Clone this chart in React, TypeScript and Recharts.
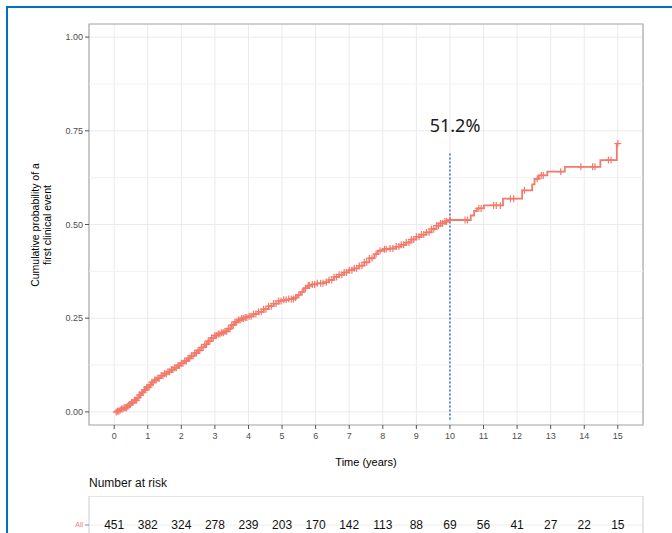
import React from "react";
import {
  ComposedChart,
  Line,
  Scatter,
  XAxis,
  YAxis,
  CartesianGrid,
  ReferenceLine,
  ReferenceArea,
} from "recharts";

// cumulative incidence curve (step after)
const stepTimes = [
  0, 0.08, 0.15, 0.22, 0.3, 0.38, 0.45, 0.52, 0.6, 0.68, 0.75, 0.82, 0.9, 0.97,
  1.05, 1.12, 1.2, 1.3, 1.4, 1.5, 1.6, 1.7, 1.8, 1.9, 2.0, 2.1, 2.2, 2.3, 2.4,
  2.5, 2.6, 2.7, 2.8, 2.9, 3.0, 3.1, 3.2, 3.3, 3.4, 3.5, 3.6, 3.7, 3.8, 3.9,
  4.0, 4.15, 4.3, 4.45, 4.6, 4.75, 4.9, 5.05, 5.2, 5.35, 5.45, 5.55, 5.65,
  5.75, 5.9, 6.05, 6.25, 6.4, 6.55, 6.7, 6.85, 7.0, 7.15, 7.3, 7.45, 7.6, 7.75,
  7.85, 8.0, 8.2, 8.4, 8.55, 8.7, 8.85, 9.0, 9.15, 9.3, 9.45, 9.6, 9.72, 9.85,
  9.95, 10.62, 10.72, 10.8, 11.01, 11.58, 12.15, 12.45, 12.52, 12.65, 12.9,
  13.42, 14.48, 14.97, 15.0,
];
const stepCum = [
  0, 0.002, 0.005, 0.008, 0.011, 0.015, 0.02, 0.025, 0.031, 0.038, 0.045,
  0.052, 0.059, 0.066, 0.072, 0.079, 0.085, 0.09, 0.097, 0.102, 0.107, 0.113,
  0.118, 0.124, 0.13, 0.136, 0.143, 0.15, 0.157, 0.164, 0.172, 0.18, 0.189,
  0.197, 0.204, 0.208, 0.211, 0.215, 0.222, 0.232, 0.24, 0.245, 0.249, 0.252,
  0.255, 0.261, 0.267, 0.274, 0.282, 0.289, 0.296, 0.299, 0.301, 0.305, 0.312,
  0.32, 0.33, 0.337, 0.34, 0.343, 0.346, 0.352, 0.36, 0.366, 0.372, 0.378,
  0.383, 0.39, 0.399, 0.41, 0.421, 0.43, 0.434, 0.436, 0.441, 0.446, 0.452,
  0.46, 0.467, 0.473, 0.479, 0.488, 0.497, 0.503, 0.508, 0.512, 0.524, 0.536,
  0.543, 0.551, 0.569, 0.591, 0.607, 0.622, 0.631, 0.641, 0.654, 0.672, 0.716,
  0.716,
];

// censoring marks
const censorTimes = [
  0.06, 0.1, 0.14, 0.18, 0.22, 0.26, 0.3, 0.33, 0.37, 0.41, 0.45, 0.48, 0.52,
  0.56, 0.6, 0.63, 0.67, 0.71, 0.75, 0.79, 0.83, 0.86, 0.9, 0.93, 0.97, 1.0,
  1.04, 1.08, 1.12, 1.16, 1.21, 1.25, 1.3, 1.34, 1.4, 1.45, 1.5, 1.55, 1.6,
  1.65, 1.7, 1.75, 1.8, 1.85, 1.9, 1.95, 2.0, 2.05, 2.1, 2.15, 2.2, 2.25, 2.3,
  2.35, 2.4, 2.45, 2.5, 2.55, 2.6, 2.65, 2.7, 2.75, 2.8, 2.85, 2.9, 2.95, 3.0,
  3.05, 3.1, 3.15, 3.2, 3.25, 3.3, 3.35, 3.4, 3.45, 3.5, 3.55, 3.6, 3.65, 3.7,
  3.75, 3.8, 3.85, 3.9, 3.95, 4.02, 4.08, 4.15, 4.22, 4.3, 4.38, 4.45, 4.52,
  4.6, 4.68, 4.75, 4.82, 4.9, 4.97, 5.05, 5.12, 5.2, 5.28, 5.34, 5.4, 5.5,
  5.6, 5.7, 5.78, 5.82, 5.9, 5.97, 6.05, 6.15, 6.22, 6.32, 6.4, 6.48, 6.55,
  6.62, 6.7, 6.78, 6.85, 6.92, 7.0, 7.08, 7.15, 7.22, 7.3, 7.38, 7.45, 7.52,
  7.6, 7.68, 7.8, 7.92, 8.05, 8.1, 8.22, 8.3, 8.4, 8.48, 8.55, 8.62, 8.7, 8.78,
  8.85, 8.92, 9.0, 9.08, 9.15, 9.22, 9.3, 9.38, 9.45, 9.52, 9.6, 9.66, 9.72,
  9.78, 9.85, 9.9, 10.0, 10.45, 10.52, 10.86, 10.93, 11.3, 11.38, 11.5, 11.8,
  11.9, 12.22, 12.6, 12.72, 12.78, 13.3, 13.9, 14.25, 14.32, 14.72, 14.8,
  15.0,
];

// number at risk
const riskTimes = [0, 1, 2, 3, 4, 5, 6, 7, 8, 9, 10, 11, 12, 13, 14, 15];
const riskCounts = [
  451, 382, 324, 278, 239, 203, 170, 142, 113, 88, 69, 56, 41, 27, 22, 15,
];

const xTicks = [0, 1, 2, 3, 4, 5, 6, 7, 8, 9, 10, 11, 12, 13, 14, 15];
const yTicks = [0, 0.25, 0.5, 0.75, 1];
const yMinor = [0.125, 0.375, 0.625, 0.875];
const riskGrid = [
  0, 0.5, 1, 1.5, 2, 2.5, 3, 3.5, 4, 4.5, 5, 5.5, 6, 6.5, 7, 7.5, 8, 8.5, 9,
  9.5, 10, 10.5, 11, 11.5, 12, 12.5, 13, 13.5, 14, 14.5, 15,
];

const RED = "#F37A6B";
const FONT = "'Liberation Sans', Arial, sans-serif";

const curveData = stepTimes.map((t, i) => ({ t, cum: stepCum[i] }));

const cumAt = (t: number) => {
  let v = 0;
  for (let i = 0; i < stepTimes.length; i++) {
    if (stepTimes[i] <= t) v = stepCum[i];
  }
  return v;
};
const censorData = censorTimes.map((t) => ({ t, cum: cumAt(t) }));
const riskData = riskTimes.map((t, i) => ({ t, y: 0.5, n: riskCounts[i] }));

const PlusMark = (props: any) => {
  const { cx, cy } = props;
  if (cx == null || cy == null) return null;
  return (
    <g stroke={RED} strokeWidth={1.2}>
      <line x1={cx - 3.5} x2={cx + 3.5} y1={cy} y2={cy} />
      <line x1={cx} x2={cx} y1={cy - 3.5} y2={cy + 3.5} />
    </g>
  );
};

const RiskText = (props: any) => {
  const { cx, cy, payload } = props;
  return (
    <text
      x={cx}
      y={cy}
      textAnchor="middle"
      dominantBaseline="central"
      fontSize={12}
      fill="#111"
    >
      {payload.n}
    </text>
  );
};

export default function App() {
  return (
    <div
      style={{
        position: "absolute",
        left: 0,
        top: 0,
        width: 672,
        height: 533,
        overflow: "hidden",
        background: "#fff",
        fontFamily: FONT,
      }}
    >
      {/* blue frame */}
      <div
        style={{
          position: "absolute",
          left: 6,
          top: 6,
          right: -10,
          bottom: -10,
          borderLeft: "2px solid #0070C0",
          borderTop: "2px solid #0070C0",
        }}
      />

      <div style={{ position: "absolute", left: 0, top: 0 }}>
        <ComposedChart
          width={672}
          height={533}
          margin={{ top: 24, right: 29, bottom: 78, left: 49 }}
        >
          <CartesianGrid stroke="#EBEBEB" strokeWidth={1} />
          {yMinor.map((y) => (
            <ReferenceLine key={y} y={y} stroke="#F2F2F2" strokeWidth={1} />
          ))}
          <XAxis
            dataKey="t"
            type="number"
            domain={[-0.75, 15.75]}
            ticks={xTicks}
            allowDataOverflow
            height={30}
            tickSize={4}
            tickMargin={4}
            axisLine={false}
            tickLine={{ stroke: "#555" }}
            tick={{ fill: "#4D4D4D", fontSize: 9 }}
          />
          <YAxis
            type="number"
            domain={[-0.035, 1.035]}
            ticks={yTicks}
            allowDataOverflow
            width={40}
            tickSize={4}
            tickMargin={2}
            axisLine={false}
            tickLine={{ stroke: "#555" }}
            tick={{ fill: "#4D4D4D", fontSize: 9 }}
            tickFormatter={(v: number) => v.toFixed(2)}
          />
          <ReferenceArea
            x1={-0.75}
            x2={15.75}
            y1={-0.035}
            y2={1.035}
            fill="none"
            stroke="#ABABAB"
            strokeWidth={1.2}
          />
          <ReferenceLine
            segment={[
              { x: 10, y: -0.02 },
              { x: 10, y: 0.69 },
            ]}
            stroke="#3F6FD0"
            strokeWidth={1.5}
            strokeDasharray="2 2"
          />
          <Line
            data={curveData}
            dataKey="cum"
            type="stepAfter"
            stroke={RED}
            strokeWidth={1.8}
            dot={false}
            isAnimationActive={false}
          />
          <Scatter
            data={censorData}
            dataKey="cum"
            shape={<PlusMark />}
            isAnimationActive={false}
          />
        </ComposedChart>
      </div>

      {/* y axis title */}
      <div
        style={{
          position: "absolute",
          left: 41,
          top: 224.5,
          transform: "translate(-50%, -50%) rotate(-90deg)",
          fontSize: 10.5,
          lineHeight: "12px",
          textAlign: "center",
          whiteSpace: "nowrap",
          color: "#000",
        }}
      >
        Cumulative probability of a
        <br />
        first clinical event
      </div>

      {/* x axis title */}
      <div
        style={{
          position: "absolute",
          left: 366,
          top: 456,
          transform: "translateX(-50%)",
          fontSize: 11,
          whiteSpace: "nowrap",
          color: "#000",
        }}
      >
        Time (years)
      </div>

      {/* annotation */}
      <div
        style={{
          position: "absolute",
          left: 455,
          top: 125,
          transform: "translate(-50%, -50%)",
          fontSize: 18,
          fontFamily: "'Noto Sans', sans-serif",
          color: "#1a1a1a",
          whiteSpace: "nowrap",
        }}
      >
        51.2%
      </div>

      {/* risk table */}
      <div
        style={{
          position: "absolute",
          left: 89,
          top: 476,
          fontSize: 12,
          lineHeight: "14px",
          color: "#111",
        }}
      >
        Number at risk
      </div>
      <div style={{ position: "absolute", left: 0, top: 496 }}>
        <ComposedChart
          width={672}
          height={58}
          margin={{ top: 0, right: 29, bottom: 0, left: 0 }}
        >
          <CartesianGrid stroke="#EDEDED" strokeWidth={1} />
          <XAxis
            dataKey="t"
            type="number"
            domain={[-0.75, 15.75]}
            ticks={riskGrid}
            allowDataOverflow
            height={0}
            tick={false}
            tickLine={false}
            axisLine={false}
          />
          <YAxis
            type="number"
            domain={[0, 1]}
            ticks={[0.5]}
            width={89}
            tickSize={4}
            tickMargin={2}
            axisLine={false}
            tickLine={{ stroke: "#888" }}
            tick={{ fill: RED, fontSize: 7 }}
            tickFormatter={() => "All"}
          />
          <ReferenceArea
            x1={-0.75}
            x2={15.75}
            y1={0}
            y2={1}
            fill="none"
            stroke="#D6D6D6"
          />
          <Scatter
            data={riskData}
            dataKey="y"
            shape={<RiskText />}
            isAnimationActive={false}
          />
        </ComposedChart>
      </div>
    </div>
  );
}
